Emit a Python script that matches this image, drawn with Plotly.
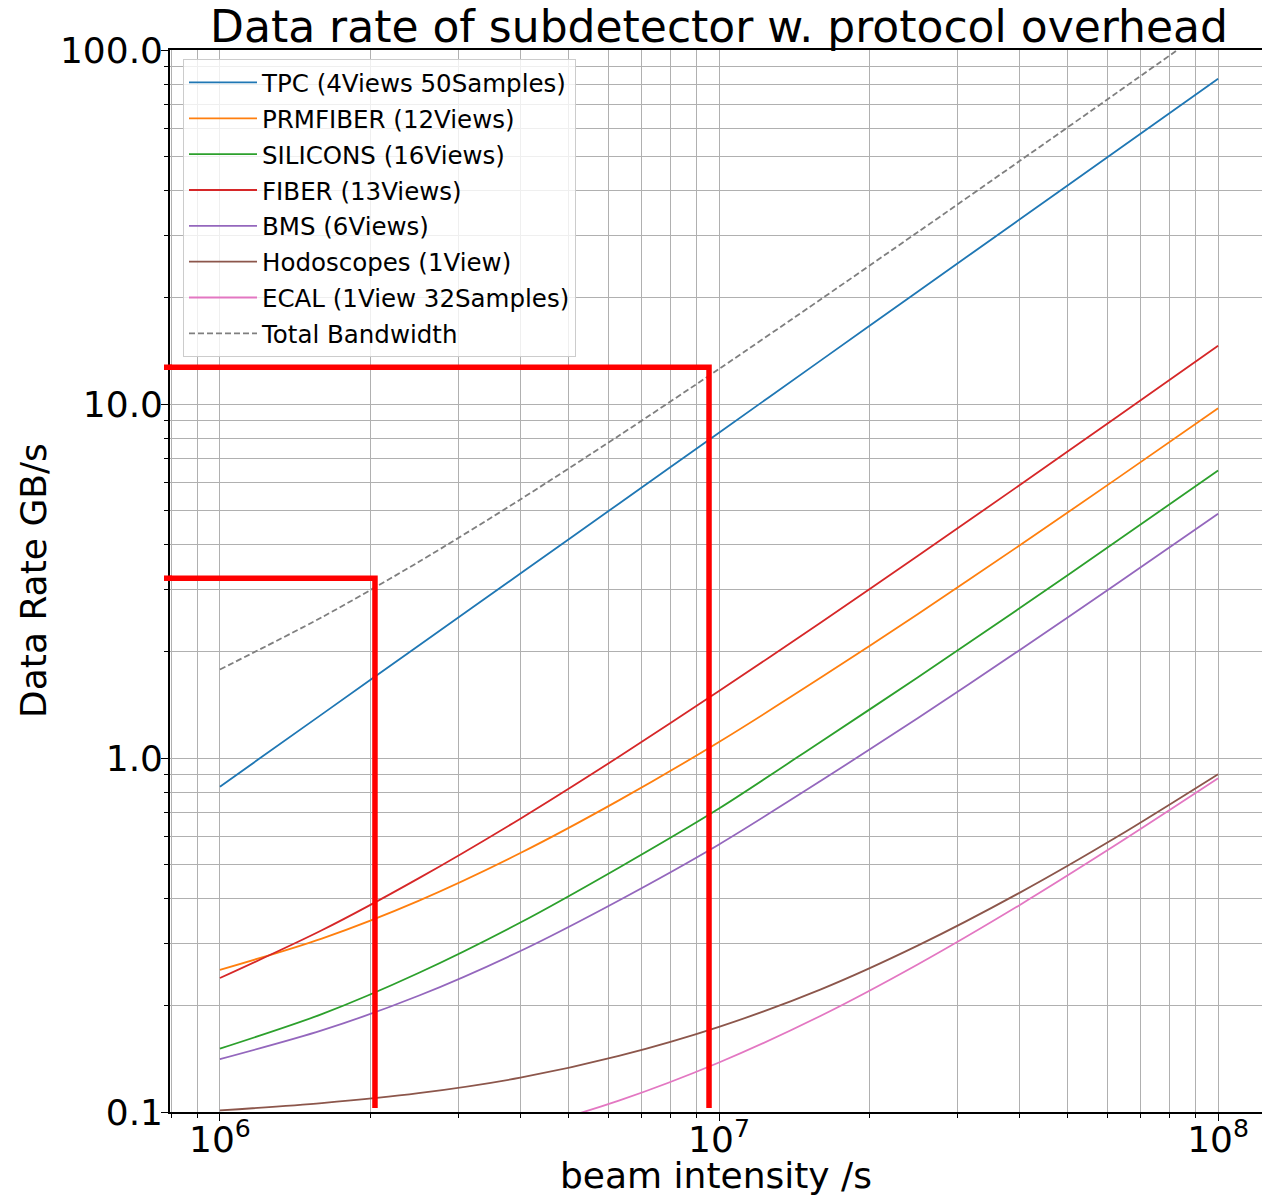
import plotly.graph_objects as go

# ---------------- data ----------------
beam_intensity = [1e6, 1.6e6, 2.5e6, 4e6, 6.3e6, 1e7, 1.6e7, 2.5e7, 4e7, 6.3e7, 1e8]

tpc       = [0.83, 1.328, 2.075, 3.32, 5.229, 8.3, 13.28, 20.75, 33.2, 52.29, 83.0]
prmfiber  = [0.252, 0.309, 0.395, 0.539, 0.759, 1.11, 1.687, 2.549, 3.984, 6.185, 9.73]
silicons  = [0.151, 0.189, 0.247, 0.343, 0.490, 0.72, 1.112, 1.688, 2.648, 4.121, 6.49]
fiber     = [0.239, 0.326, 0.457, 0.674, 1.008, 1.545, 2.415, 3.721, 5.896, 9.233, 14.6]
bms       = [0.141, 0.170, 0.213, 0.285, 0.396, 0.57, 0.862, 1.295, 2.016, 3.121, 4.90]
hodoscope = [0.101, 0.106, 0.113, 0.125, 0.144, 0.174, 0.222, 0.295, 0.416, 0.601, 0.90]
ecal      = [0.064, 0.069, 0.0765, 0.089, 0.1077, 0.138, 0.187, 0.261, 0.384, 0.573, 0.876]
total_bw  = [1.778, 2.497, 3.577, 5.375, 8.134, 12.56, 19.765, 30.559, 48.544, 76.124, 120.5]

series_names = ["TPC (4Views 50Samples)", "PRMFIBER (12Views)", "SILICONS (16Views)",
                "FIBER (13Views)", "BMS (6Views)", "Hodoscopes (1View)",
                "ECAL (1View 32Samples)", "Total Bandwidth"]
series_values = [tpc, prmfiber, silicons, fiber, bms, hodoscope, ecal, total_bw]
series_colors = ["#1f77b4", "#ff7f0e", "#2ca02c", "#d62728", "#9467bd",
                 "#8c564b", "#e377c2", "#7f7f7f"]
series_dash = ["solid"] * 7 + ["6px,3px"]

x_tick_vals = [1e6, 1e7, 1e8]
x_tick_text = ["10<sup>6</sup>", "10<sup>7</sup>", "10<sup>8</sup>"]
y_tick_vals = [0.1, 1, 10, 100]
y_tick_text = ["0.1", "1.0", "10.0", "100.0"]

# hand-drawn red markers (corner points and bottom end)
marker_x = [2.045e6, 9.55e6]
marker_y = [3.22, 12.7]
marker_bottom = [0.1026, 0.1026]

# ---------------- figure ----------------
X_RANGE = [5.9, 8.1]
Y_RANGE = [-1, 2]
FONT = "DejaVu Sans"
GRID = "#b0b0b0"
W, H = 1262, 1188          # page body has an 8px margin
ML, MR, MT, MB = 162, 2, 42, 84
PW, PH = W - ML - MR, H - MT - MB

x_minor = [m * 10 ** e for e in range(5, 9) for m in range(2, 10)
           if 10 ** X_RANGE[0] <= m * 10 ** e <= 10 ** X_RANGE[1]]
y_minor = [m * 10 ** e for e in range(-1, 2) for m in range(2, 10)]

fig = go.Figure()
for i, (name, vals, col, dash) in enumerate(zip(series_names, series_values, series_colors, series_dash)):
    fig.add_trace(go.Scatter(
        x=beam_intensity, y=vals, name=name, mode="lines",
        line=dict(color=col, width=1.8, dash=dash, shape="spline", smoothing=0.8),
        legendgroup=f"g{i}",
    ))

# red L-shaped markers
shapes = []
for mx, my, mb in zip(marker_x, marker_y, marker_bottom):
    fig.add_trace(go.Scatter(
        x=[10 ** X_RANGE[0], mx, mx], y=[my, my, mb], mode="lines",
        line=dict(color="#ff0000", width=5.5), showlegend=False, hoverinfo="skip",
    ))
    shapes.append(dict(type="line", xref="paper", yref="y", x0=-6 / PW, x1=2 / PW,
                       y0=my, y1=my, line=dict(color="#ff0000", width=5.5), layer="above"))

fig.update_layout(
    width=W, height=H,
    margin=dict(l=ML, r=MR, t=MT, b=MB, autoexpand=False),
    paper_bgcolor="white", plot_bgcolor="white",
    font=dict(family=FONT, color="black"),
    title=dict(text="Data rate of subdetector w. protocol overhead",
               font=dict(size=44, family=FONT, color="black"),
               x=0.5, xref="paper", xanchor="center",
               y=1 - 19 / H, yref="container", yanchor="middle"),
    showlegend=True,
    legend=dict(x=13 / PW, y=1 - 9 / PH, xanchor="left", yanchor="top",
                bgcolor="rgba(255,255,255,0.8)", bordercolor="#cccccc", borderwidth=1,
                font=dict(size=24.5, family=FONT, color="black"),
                traceorder="grouped", tracegroupgap=1, itemwidth=68),
    shapes=shapes,
    annotations=[
        dict(text="beam intensity /s", xref="paper", yref="paper",
             x=(546) / PW, y=-63 / PH, xanchor="center", yanchor="middle",
             showarrow=False, font=dict(size=36, family=FONT, color="black")),
        dict(text="Data Rate GB/s", xref="paper", yref="paper",
             x=-137 / PW, y=0.5, xanchor="center", yanchor="middle", textangle=-90,
             showarrow=False, font=dict(size=36, family=FONT, color="black")),
    ],
)

fig.update_xaxes(
    type="log", range=X_RANGE, automargin=False,
    tickmode="array", tickvals=x_tick_vals, ticktext=x_tick_text,
    tickfont=dict(size=36, family=FONT, color="black"), ticklabelstandoff=-12,
    ticks="outside", ticklen=7, tickwidth=1.3, tickcolor="black",
    showline=True, linecolor="black", linewidth=1.6, mirror=True,
    showgrid=True, gridcolor=GRID, gridwidth=1.1, zeroline=False,
    minor=dict(tickmode="array", tickvals=x_minor, ticks="outside", ticklen=4,
               tickwidth=1, tickcolor="black", showgrid=True, gridcolor=GRID, gridwidth=1.1),
)
fig.update_yaxes(
    type="log", range=Y_RANGE, automargin=False,
    tickmode="array", tickvals=y_tick_vals, ticktext=y_tick_text,
    tickfont=dict(size=36, family=FONT, color="black"), ticklabelstandoff=-9,
    ticks="outside", ticklen=7, tickwidth=1.3, tickcolor="black",
    showline=True, linecolor="black", linewidth=1.6, mirror=True,
    showgrid=True, gridcolor=GRID, gridwidth=1.1, zeroline=False,
    minor=dict(tickmode="array", tickvals=y_minor, ticks="outside", ticklen=4,
               tickwidth=1, tickcolor="black", showgrid=True, gridcolor=GRID, gridwidth=1.1),
)

fig.write_html("out.html")
